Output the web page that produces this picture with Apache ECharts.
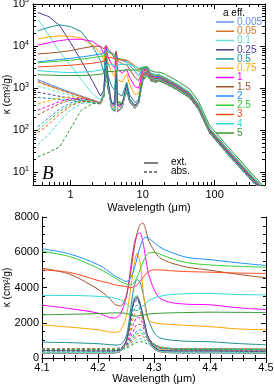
<!DOCTYPE html>
<html><head><meta charset="utf-8">
<script src="https://cdn.jsdelivr.net/npm/echarts@6/dist/echarts.min.js"></script>
<style>html,body{margin:0;padding:0;background:#fff}#c{width:274px;height:387px}</style>
</head><body><div id="c"></div>
<script>
const sizes = ['0.005','0.05','0.1','0.25','0.5','0.75','1','1.5','2','2.5','3','4','5'];
const colors = ['#6495ed','#d2782a','#5ee0d0','#483d8b','#1f9090','#ffa500','#ff00ff','#a0522d','#1e90ff','#32cd32','#ff4a1a','#30d8d8','#339933'];

// top panel wavelengths (um)
const wlTop = [0.35,0.5,0.7,1,1.4,2,2.6,2.9,3.1,3.3,3.7,4.1,4.27,4.5,5.2,6,6.6,7.8,8.8,10,11.5,13,15,17,20,30,45,60,85,150,500];
const extTop = [
[1600,1250,1000,800,650,530,450,800,8500,1400,330,280,3450,275,340,1150,520,340,460,1950,2550,1750,1550,1650,1450,980,640,330,93,29,3.0],
[1450,1150,930,760,630,520,445,790,8400,1380,330,290,3500,285,345,1140,515,340,455,1930,2540,1740,1540,1640,1440,975,635,328,92,29,3.0],
[44000,18000,7500,3500,1600,750,520,820,8500,1420,340,310,3550,300,360,1170,530,350,470,2000,2580,1780,1580,1680,1470,990,645,332,94,29,3.0],
[63000,50000,31000,12000,4500,1500,650,900,8600,1500,440,410,3400,390,420,1250,560,380,500,2100,2650,1850,1650,1750,1500,1030,660,340,95,30,3.1],
[23000,28000,32000,29000,22000,10000,4500,2300,8500,2000,1100,900,4450,750,650,1400,700,450,550,2200,2700,1900,1700,1800,1550,1050,680,350,97,31,3.2],
[14700,16500,17500,17000,15500,10500,7000,4500,9500,4000,2400,1870,5950,1600,1400,2200,1200,700,750,2300,2700,1900,1750,1800,1600,1080,700,360,100,32,3.3],
[10600,12000,13500,14500,14500,13000,9500,6500,10000,5500,3700,3000,7000,2750,2300,2800,1800,1100,1000,2500,2800,1950,1800,1820,1620,1100,710,365,101,32,3.3],
[6500,6800,7200,7800,8800,9800,10000,8500,10500,8500,6500,5100,7650,4550,3700,3600,2800,1800,1500,2700,2900,2000,1850,1850,1650,1130,720,370,103,33,3.4],
[4200,4500,4800,5100,5500,6000,6500,6600,8500,7800,7000,6200,5700,5250,4500,4200,3500,2500,2000,2900,3000,2100,1900,1900,1700,1160,740,380,105,34,3.5],
[4000,4200,4400,4600,4900,5300,5700,5800,7500,7000,6600,6050,4600,5150,4800,4600,4000,3000,2400,3000,3100,2200,2000,2000,1750,1200,760,390,107,35,3.6],
[3200,3300,3400,3500,3700,3900,4200,4400,5500,5500,5300,5000,4150,4800,4700,4600,4200,3400,2800,3100,3150,2250,2050,2050,1800,1230,780,400,110,36,3.7],
[2600,2500,2400,2350,2400,2500,2700,2900,3600,3600,3600,3550,2700,3580,3700,3700,3600,3300,3000,3200,3200,2300,2100,2100,1850,1270,800,410,113,37,3.8],
[2080,2050,2000,2000,2000,2050,2150,2200,2500,2500,2480,2450,2380,2580,2650,2700,2700,2700,2700,3000,3300,2600,2400,2400,2200,1500,950,480,130,42,4.2]
];
const absTop = [
[1580,1240,990,790,645,525,445,790,8400,1380,325,275,3400,270,335,1130,510,335,455,1920,2520,1730,1530,1630,1430,970,635,327,92,29,3.0],
[1400,1120,910,750,620,515,440,780,8300,1360,325,285,3450,280,340,1120,505,335,450,1900,2500,1720,1520,1620,1420,965,630,325,91,29,3.0],
[1100,950,800,680,580,500,440,760,8000,1300,320,280,3400,280,340,1120,500,335,450,1880,2480,1700,1500,1600,1410,960,625,323,91,29,3.0],
[800,720,640,580,520,470,430,740,7500,1250,320,290,3250,285,340,1100,495,330,445,1850,2450,1680,1490,1590,1400,955,620,320,90,29,3.0],
[600,570,540,510,480,450,420,720,6800,1200,330,320,2950,300,350,1080,490,330,440,1800,2400,1650,1470,1570,1390,950,615,318,90,28,2.9],
[420,500,580,620,600,530,450,720,6000,1150,350,360,2650,330,360,1050,480,330,440,1750,2350,1620,1450,1550,1380,945,610,316,89,28,2.9],
[300,380,480,560,570,520,450,700,5200,1100,370,400,2300,360,380,1000,470,330,440,1700,2300,1600,1430,1530,1370,940,605,314,89,28,2.9],
[230,320,430,520,560,520,450,690,4500,1050,400,440,1900,400,400,950,470,340,450,1650,2250,1580,1420,1520,1360,935,600,312,88,28,2.9],
[120,200,320,450,520,510,450,680,3900,1000,420,470,1600,430,420,900,470,350,450,1600,2200,1560,1410,1510,1350,930,598,310,88,28,2.9],
[100,170,280,410,500,500,445,670,3500,980,430,490,1400,450,430,870,470,360,460,1550,2150,1540,1400,1500,1340,925,595,308,87,28,2.9],
[87,140,240,380,480,490,440,660,3200,950,440,500,1250,460,440,850,470,370,460,1500,2100,1520,1390,1490,1330,920,592,306,87,28,2.9],
[45,80,160,300,430,470,435,640,2800,920,450,500,1050,470,450,820,470,380,470,1450,2050,1500,1380,1480,1320,915,590,305,86,27,2.8],
[23,30,40,110,300,430,430,620,2500,900,460,480,900,470,460,800,470,390,470,1400,2000,1480,1370,1470,1310,910,588,304,86,27,2.8]
];

// bottom panel wavelengths (um)
const wlBot = [4.10,4.15,4.20,4.22,4.23,4.24,4.25,4.255,4.26,4.265,4.27,4.275,4.28,4.285,4.29,4.30,4.31,4.33,4.36,4.40,4.45,4.50];
const extBot = [
[280,275,270,275,290,380,900,1600,2700,3350,3450,3050,2350,1600,1000,520,360,300,290,295,280,275],
[290,285,280,285,300,390,920,1650,2750,3400,3500,3100,2400,1650,1050,540,370,310,300,305,290,285],
[320,315,310,315,330,420,950,1700,2800,3450,3550,3150,2450,1700,1080,560,390,330,320,325,310,305],
[420,410,400,400,410,480,950,1650,2650,3250,3400,3100,2450,1750,1150,620,450,410,400,405,390,380],
[900,870,810,760,740,760,1200,2000,3200,4100,4450,4300,3700,2900,2200,1450,1150,1020,950,920,820,750],
[1870,1750,1600,1480,1450,1550,2300,3200,4300,5400,5950,5400,4000,2700,2150,2000,1950,1900,1850,1780,1650,1600],
[3000,2800,2550,2300,2270,2500,3400,4300,5500,6500,7000,7100,6600,5700,4800,3900,3400,3150,3050,3020,2850,2750],
[5100,4750,3900,3400,3050,2950,3500,4200,5200,6300,7100,7550,7650,7300,6700,6100,5700,5400,5150,4980,4750,4550],
[6200,5900,5300,4900,4650,4500,4350,4400,4650,5100,5700,6300,6700,6850,6800,6550,6300,6000,5700,5580,5400,5250],
[6050,5750,5100,4750,4550,4350,4200,4150,4150,4300,4600,5000,5400,5750,5950,6000,5900,5650,5400,5280,5200,5150],
[5000,4850,4400,4250,4150,4100,4050,4000,4000,4050,4150,4350,4550,4750,4900,5000,5000,4950,4900,4870,4820,4800],
[3550,3550,3500,3450,3400,3300,3100,2950,2800,2700,2700,2800,2950,3100,3250,3400,3500,3600,3650,3660,3600,3580],
[2450,2480,2520,2550,2560,2560,2530,2480,2420,2380,2380,2400,2430,2460,2490,2520,2540,2560,2580,2600,2590,2580]
];
const absBot = [
[275,270,265,270,285,370,880,1570,2650,3300,3400,3000,2300,1570,980,510,355,295,285,290,275,270],
[285,280,275,280,295,380,900,1600,2700,3350,3450,3050,2350,1600,1020,530,365,305,295,300,285,280],
[300,295,290,295,310,400,900,1600,2650,3300,3400,3000,2350,1620,1030,540,375,315,305,310,295,290],
[330,325,320,322,335,420,880,1550,2550,3150,3300,2950,2300,1600,1050,560,390,340,330,335,320,315],
[400,395,390,390,400,470,850,1400,2250,2800,3000,2750,2200,1600,1100,620,450,400,390,395,380,375],
[450,445,440,440,450,510,800,1250,1950,2450,2700,2550,2100,1600,1150,700,520,450,430,435,420,415],
[500,495,490,490,500,550,780,1100,1650,2050,2300,2250,1950,1550,1150,750,580,500,470,475,460,455],
[520,515,510,510,520,560,720,950,1300,1650,1900,1900,1750,1450,1150,800,620,530,500,505,490,485],
[540,535,530,530,535,570,690,860,1100,1350,1550,1600,1500,1300,1080,800,640,550,520,525,510,505],
[540,535,530,530,535,565,660,800,1000,1200,1380,1420,1350,1200,1020,780,640,550,525,530,515,510],
[530,525,520,520,525,555,630,750,900,1070,1230,1270,1220,1100,950,750,620,545,520,525,510,505],
[500,495,490,490,495,520,580,680,800,940,1050,1080,1050,960,850,700,590,520,500,505,490,485],
[480,475,470,470,475,495,540,620,720,820,900,930,910,850,760,650,560,500,480,485,470,465]
];

const topTicksX = ['1','10','100'];
const FONT = 'Liberation Sans, Arial, sans-serif';

function pairs(xs, ys){ return xs.map((x,i)=>[x, ys[i]]); }

const series = [];
sizes.forEach((s,i)=>{
  series.push({name: s + ' abs', type:'line', xAxisIndex:0, yAxisIndex:0, data:pairs(wlTop, absTop[i]),
    symbol:'none', silent:true, lineStyle:{color:colors[i], width:1, type:[3,2]}, itemStyle:{color:colors[i]}});
  series.push({name: s + ' abs b', type:'line', xAxisIndex:2, yAxisIndex:2, data:pairs(wlBot, absBot[i]), smooth:0.3,
    symbol:'none', silent:true, lineStyle:{color:colors[i], width:1, type:[3,2]}, itemStyle:{color:colors[i]}});
});
sizes.forEach((s,i)=>{
  series.push({name: s, type:'line', xAxisIndex:0, yAxisIndex:0, data:pairs(wlTop, extTop[i]),
    symbol:'none', silent:true, lineStyle:{color:colors[i], width:1}, itemStyle:{color:colors[i]}});
  series.push({name: s + ' b', type:'line', xAxisIndex:2, yAxisIndex:2, data:pairs(wlBot, extBot[i]), smooth:0.3,
    symbol:'none', silent:true, lineStyle:{color:colors[i], width:1}, itemStyle:{color:colors[i]}});
});

const axLine = {show:true, lineStyle:{color:'#000', width:1}};
const lab = {color:'#000', fontSize:11, fontFamily:FONT};
const nameStyle = {color:'#000', fontSize:10, fontFamily:FONT};

// legend built as graphic (line + coloured text per size)
const legendGraphic = [{type:'text', left:223, top:8, style:{text:'a eff.', fontSize:10, fontFamily:FONT, fill:'#000'}}];
sizes.forEach((s,i)=>{
  const y = 22 + i*9.25;
  legendGraphic.push({type:'line', shape:{x1:216, y1:y, x2:234, y2:y}, style:{stroke:colors[i], lineWidth:1.5}});
  legendGraphic.push({type:'text', x:237, y:y, style:{text:s, fontSize:10, fontFamily:FONT, fill:colors[i], textVerticalAlign:'middle', verticalAlign:'middle'}});
});

const option = {
  animation:false,
  backgroundColor:'#fff',
  textStyle:{fontFamily:FONT},
  grid:[
    {left:33, top:4, width:232, height:181, containLabel:false, outerBoundsMode:'none'},
    {left:42, top:217, width:224, height:141, containLabel:false, outerBoundsMode:'none'}
  ],
  xAxis:[
    {type:'log', logBase:10, min:0.3, max:500, gridIndex:0, position:'bottom',
     axisLine:axLine, axisTick:{show:true, inside:true, length:5, lineStyle:{color:'#000'}},
     minorTick:{show:true, splitNumber:9, length:3, lineStyle:{color:'#000'}},
     splitLine:{show:false}, minorSplitLine:{show:false},
     axisLabel:Object.assign({margin:4, showMinLabel:false, showMaxLabel:false,
       formatter:v=>{const e=Math.round(Math.log10(v)); return e>=0 && e<=2 ? topTicksX[e] : '';}}, lab),
     name:'Wavelength (μm)', nameLocation:'middle', nameGap:17, nameMoveOverlap:false,
     nameTextStyle:{color:'#000', fontSize:11, fontFamily:FONT}},
    {type:'log', logBase:10, min:0.3, max:500, gridIndex:0, position:'top',
     axisLine:axLine, axisTick:{show:true, inside:true, length:5, lineStyle:{color:'#000'}},
     minorTick:{show:true, splitNumber:9, length:3, lineStyle:{color:'#000'}},
     splitLine:{show:false}, axisLabel:{show:false}},
    {type:'value', min:4.1, max:4.5, interval:0.1, gridIndex:1, position:'bottom',
     axisLine:axLine, axisTick:{show:true, inside:true, length:5, lineStyle:{color:'#000'}},
     minorTick:{show:true, splitNumber:5, length:3, lineStyle:{color:'#000'}},
     splitLine:{show:false},
     axisLabel:Object.assign({margin:4, formatter:v=>v.toFixed(1)}, lab),
     name:'Wavelength (μm)', nameLocation:'middle', nameGap:15, nameMoveOverlap:false,
     nameTextStyle:{color:'#000', fontSize:11, fontFamily:FONT}},
    {type:'value', min:4.1, max:4.5, interval:0.1, gridIndex:1, position:'top',
     axisLine:axLine, axisTick:{show:true, inside:true, length:5, lineStyle:{color:'#000'}},
     minorTick:{show:true, splitNumber:5, length:3, lineStyle:{color:'#000'}},
     splitLine:{show:false}, axisLabel:{show:false}}
  ],
  yAxis:[
    {type:'log', logBase:10, min:5, max:100000, gridIndex:0, position:'left',
     axisLine:axLine, axisTick:{show:true, inside:true, length:5, lineStyle:{color:'#000'}},
     minorTick:{show:true, splitNumber:9, length:3, lineStyle:{color:'#000'}},
     splitLine:{show:false},
     axisLabel:{margin:4, showMinLabel:false, color:'#000',
       formatter:v=>'{b|10}{s|'+Math.round(Math.log10(v))+'}',
       rich:{b:{fontSize:11, fontFamily:FONT, color:'#000', lineHeight:14},
             s:{fontSize:7, fontFamily:FONT, color:'#000', verticalAlign:'top', lineHeight:8}}},
     name:'κ (cm²/g)', nameLocation:'middle', nameGap:21, nameRotate:90, nameMoveOverlap:false,
     nameTextStyle:nameStyle},
    {type:'log', logBase:10, min:5, max:100000, gridIndex:0, position:'right',
     axisLine:axLine, axisTick:{show:true, inside:true, length:5, lineStyle:{color:'#000'}},
     minorTick:{show:true, splitNumber:9, length:3, lineStyle:{color:'#000'}},
     splitLine:{show:false}, axisLabel:{show:false}},
    {type:'value', min:0, max:8000, interval:2000, gridIndex:1, position:'left',
     axisLine:axLine, axisTick:{show:true, inside:true, length:5, lineStyle:{color:'#000'}},
     minorTick:{show:true, splitNumber:4, length:3, lineStyle:{color:'#000'}},
     splitLine:{show:false},
     axisLabel:Object.assign({margin:3, formatter:v=>String(v)}, lab),
     name:'κ (cm²/g)', nameLocation:'middle', nameGap:30, nameRotate:90, nameMoveOverlap:false,
     nameTextStyle:nameStyle},
    {type:'value', min:0, max:8000, interval:2000, gridIndex:1, position:'right',
     axisLine:axLine, axisTick:{show:true, inside:true, length:5, lineStyle:{color:'#000'}},
     minorTick:{show:true, splitNumber:4, length:3, lineStyle:{color:'#000'}},
     splitLine:{show:false}, axisLabel:{show:false}}
  ],
  graphic:legendGraphic.concat([
    {type:'text', left:42, top:164, style:{text:'B', fontSize:19, fontStyle:'italic', fontFamily:'Liberation Serif, DejaVu Serif, serif', fill:'#000'}},
    {type:'line', shape:{x1:144, y1:163, x2:158, y2:163}, style:{stroke:'#000', lineWidth:1}},
    {type:'line', shape:{x1:144, y1:172, x2:158, y2:172}, style:{stroke:'#000', lineWidth:1, lineDash:[3,2]}},
    {type:'text', left:171, top:157, style:{text:'ext.', fontSize:10, fontFamily:FONT, fill:'#000'}},
    {type:'text', left:171, top:166, style:{text:'abs.', fontSize:10, fontFamily:FONT, fill:'#000'}}
  ]),
  series:series
};
const chart = echarts.init(document.getElementById('c'), null, {renderer:'canvas'});
chart.setOption(option);
</script>
</body></html>
